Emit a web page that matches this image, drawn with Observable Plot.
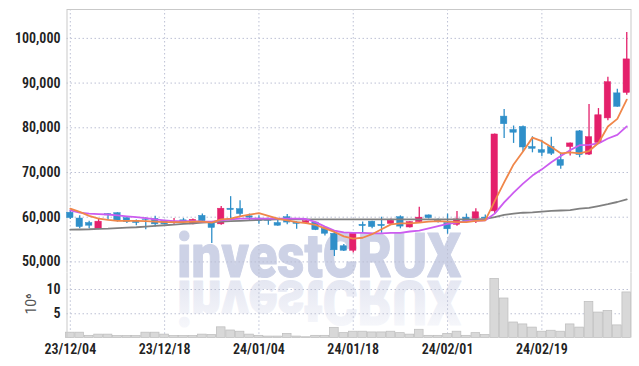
<!DOCTYPE html>
<html><head><meta charset="utf-8">
<script src="https://cdn.jsdelivr.net/npm/d3@7"></script>
<script src="https://cdn.jsdelivr.net/npm/@observablehq/plot@0.6"></script>
<style>
body{margin:0;background:#fff;}
#wrap{position:relative;width:639px;height:366px;overflow:hidden;background:#fff;}
#wm{position:absolute;left:0;top:0;}
#charts{position:absolute;left:0;top:0;}
#charts svg{display:block;background:transparent;}
</style></head><body>
<div id="wrap">
<svg id="wm" width="639" height="366">
  <defs>
    <linearGradient id="rg" x1="0" y1="0" x2="0" y2="1">
      <stop offset="0" stop-color="#fafbfd"/>
      <stop offset="0.35" stop-color="#f1f2f8"/>
      <stop offset="1" stop-color="#dfe2ef"/>
    </linearGradient>
  </defs>
  <g fill="#cdd2e6" stroke="#cdd2e6">
    <text id="wmt" x="177" y="277" font-family="Roboto, 'DejaVu Sans'" font-weight="900" font-size="62" stroke-width="1" stroke-linejoin="round" textLength="284" lengthAdjust="spacingAndGlyphs">investCRUX</text>
  </g>
  <use href="#wmt" transform="translate(0,558) scale(1,-1)" fill="url(#rg)" stroke="url(#rg)"/>
</svg>
<div id="charts"></div>
</div>
<script>
const dates = ["23/12/04","23/12/05","23/12/06","23/12/07","23/12/08","23/12/11","23/12/12","23/12/13","23/12/14","23/12/15",
"23/12/18","23/12/19","23/12/20","23/12/21","23/12/22","23/12/26","23/12/27","23/12/28","24/01/02","24/01/03",
"24/01/04","24/01/05","24/01/08","24/01/09","24/01/10","24/01/11","24/01/12","24/01/15","24/01/16","24/01/17",
"24/01/18","24/01/19","24/01/22","24/01/23","24/01/24","24/01/25","24/01/26","24/01/29","24/01/30","24/01/31",
"24/02/01","24/02/02","24/02/05","24/02/06","24/02/07","24/02/08","24/02/13","24/02/14","24/02/15","24/02/16",
"24/02/19","24/02/20","24/02/21","24/02/22","24/02/23","24/02/26","24/02/27","24/02/28","24/02/29","24/03/04"];
const tickIdx = [0,10,20,30,40,50];
const priceTicks = [50000,60000,70000,80000,90000,100000];
const volTicks = [5,10];

const open  = [61000,59700,58700,57300,60700,60900,59800,59200,59500,59600,
59100,58900,59300,58400,60300,58700,58400,61900,61800,60200,
59700,59400,58700,60000,58800,58700,58800,57400,56300,53500,
52500,58300,59000,58300,58500,60000,57700,58900,60400,59200,
58700,58300,59900,59600,59900,61300,82500,79500,80200,75700,
75000,75700,72800,75700,79200,74000,76600,82100,87700,87800];
const high  = [61400,60300,59100,59700,60800,61000,59900,59400,59900,60200,
59300,59700,59700,59600,60700,59000,62400,64600,63700,60700,
60300,59800,59400,60600,59000,59200,58900,57800,56700,53900,
56600,58900,59100,60000,59600,60300,59000,62200,60500,59600,
60700,61300,60700,61900,60500,78600,84100,80400,80400,78000,
77200,77900,74400,76600,79400,85200,84300,91300,88600,101300];
const low   = [59500,57400,57400,57200,59300,58900,58600,58100,57200,57800,
58300,58400,58400,58300,58900,54100,58200,59600,60100,59200,
58400,58200,58000,58300,57300,58400,57000,55800,51200,52300,
52000,56400,57400,56400,58400,57400,57600,58800,59600,58700,
56200,58000,58800,58600,59300,60800,77600,76500,74500,74400,
73500,73800,70700,73700,73300,73800,76300,81600,84600,87300];
const close = [59800,57800,58100,59000,60400,59100,58900,58700,59400,58400,
58400,59000,58950,59400,59100,57600,61900,61600,60700,59900,
59100,59200,58100,58800,58500,59100,57100,56300,52600,52500,
56500,58000,57800,58000,59200,57900,58900,59900,59800,58900,
57300,59500,59100,61100,59700,78500,80800,78900,75600,75300,
74400,74200,71500,76500,73900,77900,82800,90200,84700,95300];
const volume = [1.1,1.1,0.45,0.7,0.7,0.4,0.4,0.4,1.1,1.1,
0.7,0.4,0.4,0.4,0.7,0.6,2.2,1.55,1.3,0.7,
0.45,0.3,0.3,0.85,0.3,0.15,0.45,0.45,2.1,1.0,
1.3,1.3,1.15,1.15,1.3,1.0,0.7,1.7,0.45,0.45,
0.85,1.3,0.45,1.0,0.6,12.2,8.15,3.2,2.8,2.15,
1.3,1.5,1.3,2.8,2.15,7.45,5.25,5.6,2.6,9.4];
const ma5 = [61900,61200,60300,59700,59400,59200,59200,59200,59100,59000,
58900,58900,58900,59000,59000,58800,59500,59700,60200,60600,
60900,60300,59700,59300,58900,58700,58300,57500,56700,55700,
55200,55400,56200,57300,58400,58600,58600,58800,59000,59100,
59000,58900,58900,59200,59300,63600,67800,71800,74700,77800,
77000,75700,74300,74500,74300,74800,76600,80300,82000,86300];
const ma10 = [61500,61000,60800,60700,60600,60400,60200,60000,59800,59500,
59300,59100,59100,59100,59000,59000,59300,59500,59700,59700,
59700,59700,59700,59700,59700,59600,58900,57900,57000,56600,
56500,56500,56400,56400,56500,56500,56800,57000,57500,58000,
58500,58800,59100,59200,59300,60800,63300,65500,67500,69300,
70700,72300,73700,75000,76100,76200,76500,77600,78400,80300];
const ma60 = [57200,57250,57300,57400,57450,57550,57650,57750,57900,58050,
58200,58350,58500,58650,58800,58900,59000,59100,59200,59300,
59400,59450,59500,59500,59500,59500,59500,59500,59500,59500,
59500,59500,59500,59500,59500,59500,59500,59500,59500,59500,
59500,59500,59500,59500,59600,60000,60500,60800,61000,61100,
61250,61400,61500,61600,61900,62100,62500,62900,63400,64000];

const RED = "#e4206b", BLUE = "#2f8fc9";
const GRID = "#bcc0d4", FRAME = "#c9c9c9";
const FONT = "'Roboto Condensed','Liberation Sans Narrow','DejaVu Sans Condensed',Roboto,sans-serif";
const xDomain = [-0.35, 59.45];
const data = dates.map((d, i) => ({i, d, o: open[i], h: high[i], l: low[i], c: close[i], v: volume[i], col: close[i] >= open[i] ? RED : BLUE}));
const lineData = (arr) => arr.map((v, i) => ({i, v}));

const price = Plot.plot({
  width: 639, height: 272, marginTop: 9, marginBottom: 0, marginLeft: 66.5, marginRight: 8.5,
  style: {background: "transparent", fontFamily: FONT, fontSize: "14px", color: "#222"},
  x: {domain: xDomain, axis: null},
  y: {domain: [47630, 106460], axis: null},
  marks: [
    Plot.gridY(priceTicks, {stroke: GRID, strokeOpacity: 1, strokeDasharray: "1.5,2.5"}),
    Plot.gridX(tickIdx, {stroke: GRID, strokeOpacity: 1, strokeDasharray: "1.5,2.5"}),
    Plot.frame({stroke: FRAME}),
    Plot.ruleX(data, {x: "i", y1: "l", y2: "h", stroke: "col", strokeWidth: 1.3}),
    Plot.rect(data, {x1: d => d.i - 0.34, x2: d => d.i + 0.34, y1: "o", y2: "c", fill: "col", stroke: "col", strokeWidth: 0.5}),
    Plot.line(lineData(ma60), {x: "i", y: "v", stroke: "#808080", strokeWidth: 1.8}),
    Plot.line(lineData(ma10), {x: "i", y: "v", stroke: "#cc5cf0", strokeWidth: 1.8}),
    Plot.line(lineData(ma5), {x: "i", y: "v", stroke: "#f0874a", strokeWidth: 1.8}),
    Plot.axisY(priceTicks, {tickSize: 0, tickPadding: 6.5, tickFormat: d3.format(","), fontSize: 14, fontWeight: 600, fill: "#222", label: null})
  ]
});

const vol = Plot.plot({
  width: 639, height: 94, marginTop: 0.3, marginBottom: 28.5, marginLeft: 66.5, marginRight: 8.5,
  style: {background: "transparent", fontFamily: FONT, fontSize: "14px", color: "#222"},
  x: {domain: xDomain, axis: null},
  y: {domain: [0, 13.45], axis: null},
  marks: [
    Plot.gridY(volTicks, {stroke: GRID, strokeOpacity: 1, strokeDasharray: "1.5,2.5"}),
    Plot.gridX(tickIdx, {stroke: GRID, strokeOpacity: 1, strokeDasharray: "1.5,2.5"}),
    Plot.rect(data, {x1: d => d.i - 0.46, x2: d => d.i + 0.46, y1: 0, y2: "v", fill: "#d8d8d8", stroke: "#bcbcbc", strokeWidth: 0.7}),
    Plot.ruleX([xDomain[0], xDomain[1]], {stroke: FRAME}),
    Plot.axisY(volTicks, {tickSize: 0, tickPadding: 6.5, fontSize: 14, fontWeight: 600, fill: "#222", label: null}),
    Plot.text(["10⁶"], {x: xDomain[0], y: 7.0, dx: -35, rotate: -90, fontSize: 14, fill: "#555", fontFamily: "Roboto, sans-serif"}),
    Plot.axisX(tickIdx, {tickSize: 0, tickPadding: 6, tickFormat: i => dates[i], fontSize: 14, fontWeight: 600, fill: "#222", label: null})
  ]
});

document.getElementById("charts").append(price, vol);
</script>
</body></html>
